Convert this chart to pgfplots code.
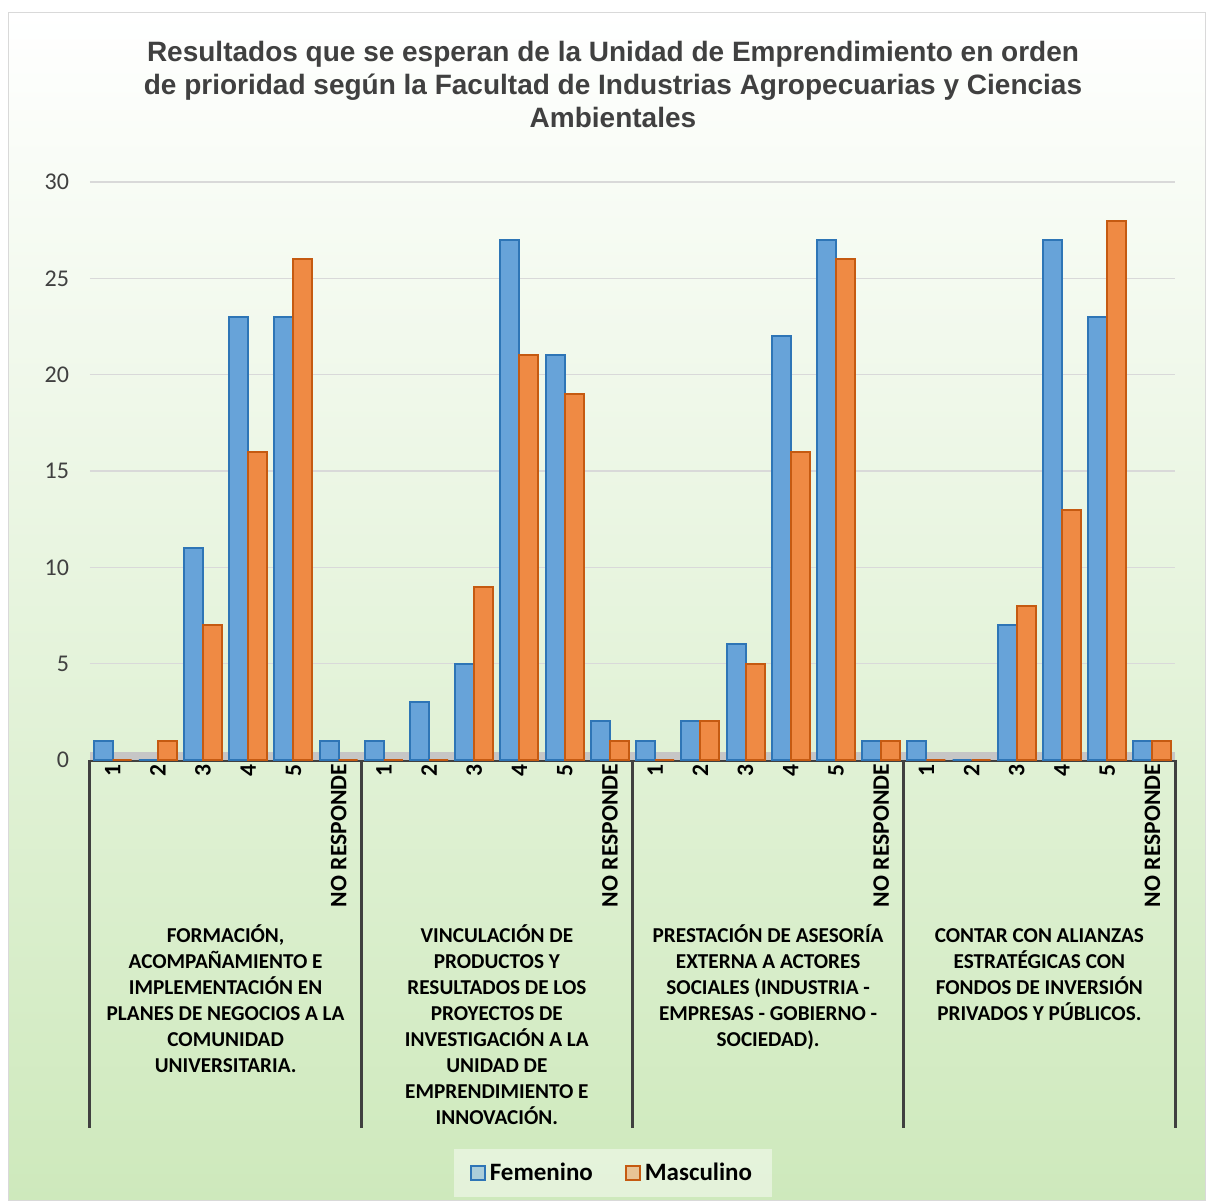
\documentclass[border=0pt]{standalone}
\usepackage{pgfplots}
\pgfplotsset{compat=1.18}
\usepackage{fontspec}
\setmainfont{Carlito}
\newfontfamily\arialf{Liberation Sans}

\definecolor{fem}{HTML}{67A3D9}
\definecolor{femd}{HTML}{2E75B6}
\definecolor{mas}{HTML}{EF8A44}
\definecolor{masd}{HTML}{C55A11}
\definecolor{grd}{HTML}{D9D9D9}
\definecolor{ttl}{HTML}{404040}
\definecolor{axl}{HTML}{404040}
\definecolor{bgg}{RGB}{206,233,188}

% Femenino / Masculino, 4 groups x 6 answers
\pgfplotstableread{
x F M
0 1 0
1 0 1
2 11 7
3 23 16
4 23 26
5 1 0
6 1 0
7 3 0
8 5 9
9 27 21
10 21 19
11 2 1
12 1 0
13 2 2
14 6 5
15 22 16
16 27 26
17 1 1
18 1 0
19 0 0
20 7 8
21 27 13
22 23 28
23 1 1
}\datos

\begin{document}
\begin{tikzpicture}
% fondo
\fill[white] (0,0) rectangle (603.5pt,601pt);
\shade[top color=white, bottom color=bgg] (4pt,1pt) rectangle (602.5pt,595pt);
\draw[grd] (4pt,1pt) rectangle (602.5pt,595pt);

% titulo
\node[anchor=north, align=center, text=ttl, font=\arialf\bfseries\fontsize{14}{16.5}\selectfont]
  at (306.5pt,584pt) {Resultados que se esperan de la Unidad de Emprendimiento en orden\\
  de prioridad según la Facultad de Industrias Agropecuarias y Ciencias\\ Ambientales};

\begin{axis}[
    at={(45pt,221pt)}, anchor=south west,
    scale only axis,
    width=542.5pt, height=289pt,
    ybar=0pt, bar width=0.42,
    xmin=-0.5, xmax=23.5,
    ymin=0, ymax=30,
    ytick={0,5,...,30},
    xtick={0,...,23},
    xticklabels={1,2,3,4,5,NO RESPONDE,1,2,3,4,5,NO RESPONDE,1,2,3,4,5,NO RESPONDE,1,2,3,4,5,NO RESPONDE},
    xticklabel style={rotate=90, anchor=east, xshift=1.5pt, font=\bfseries\fontsize{11.8}{13}\selectfont},
    yticklabel style={font=\fontsize{12}{14}\selectfont, text=ttl, xshift=-7pt},
    /pgf/number format/assume math mode=true,
    major tick length=0pt,
    ymajorgrids, grid style={grd, line width=0.8pt},
    axis lines*=left,
    y axis line style={draw=none},
    x axis line style={axl, line width=2pt},
    clip=false,
    legend image code/.code={\draw[#1] (0pt,-3.5pt) rectangle (7pt,3.5pt);},
    legend style={at={(0.482,-0.7145)}, anchor=center, legend columns=2,
      draw=none, fill=white, fill opacity=0.45, text opacity=1,
      font=\bfseries\fontsize{12.5}{14}\selectfont,
      inner xsep=8pt, inner ysep=5pt,
      /tikz/every even column/.append style={column sep=14pt}},
]
% piso
\fill[gray!45] (axis cs:-0.5,0) rectangle (axis cs:23.5,0.4);

\addplot[fill=fem, draw=femd, line width=1pt] table[x=x, y=F] {\datos};
\addplot[fill=mas, draw=masd, line width=1pt] table[x=x, y=M] {\datos};
\legend{Femenino, Masculino}

% separadores de grupos
\pgfplotsinvokeforeach{-0.5,5.5,11.5,17.5,23.5}{
  \draw[axl, line width=1.5pt] (axis cs:#1,0) -- ([yshift=-184pt]axis cs:#1,0);
}

% etiquetas de grupo
\begin{scope}[every node/.style={anchor=north, align=center, font=\bfseries\fontsize{10.6}{13}\selectfont}]
\node at (axis cs:2.5,0) [yshift=-79pt] {FORMACIÓN,\\ ACOMPAÑAMIENTO E\\ IMPLEMENTACIÓN EN\\ PLANES DE NEGOCIOS A LA\\ COMUNIDAD\\ UNIVERSITARIA.};
\node at (axis cs:8.5,0) [yshift=-79pt] {VINCULACIÓN DE\\ PRODUCTOS Y\\ RESULTADOS DE LOS\\ PROYECTOS DE\\ INVESTIGACIÓN A LA\\ UNIDAD DE\\ EMPRENDIMIENTO E\\ INNOVACIÓN.};
\node at (axis cs:14.5,0) [yshift=-79pt] {PRESTACIÓN DE ASESORÍA\\ EXTERNA A ACTORES\\ SOCIALES (INDUSTRIA -\\ EMPRESAS - GOBIERNO -\\ SOCIEDAD).};
\node at (axis cs:20.5,0) [yshift=-79pt] {\vphantom{Ó}CONTAR CON ALIANZAS\\ ESTRATÉGICAS CON\\ FONDOS DE INVERSIÓN\\ PRIVADOS Y PÚBLICOS.};
\end{scope}
\end{axis}
\end{tikzpicture}
\end{document}
